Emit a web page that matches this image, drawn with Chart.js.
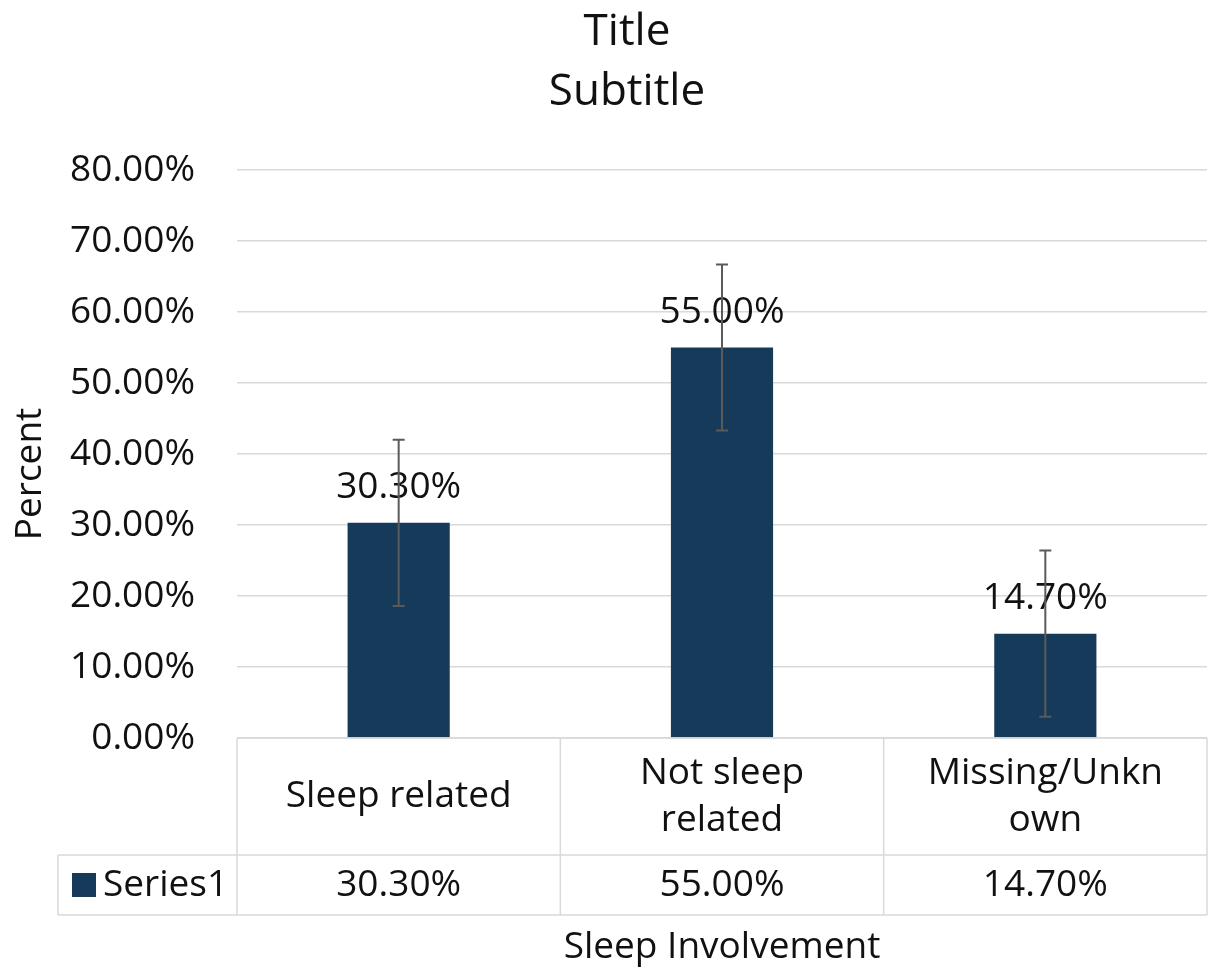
<!DOCTYPE html>
<html>
<head>
<meta charset="utf-8">
<script src="https://cdn.jsdelivr.net/npm/chart.js@4.4.0/dist/chart.umd.min.js"></script>
<style>
  html, body { margin: 0; padding: 0; background: #fff; }
  #wrap { width: 1208px; height: 968px; }
</style>
</head>
<body>
<div id="wrap"><canvas id="c" width="1208" height="968"></canvas></div>
<script>
// data
const categories = [["Sleep related"], ["Not sleep", "related"], ["Missing/Unkn", "own"]];
const seriesName = "Series1";
const values = [30.3, 55.0, 14.7];
const errorAmounts = [11.7, 11.7, 11.7];
const yTicks = [0, 10, 20, 30, 40, 50, 60, 70, 80];
const titleText = "Title";
const subtitleText = "Subtitle";
const yTitle = "Percent";
const xTitle = "Sleep Involvement";

const FONT = "'Open Sans', 'Liberation Sans', sans-serif";
const TXT = "#111";
const BAR = "#163a59";
const GRID = "#d9d9d9";
const FS = 37;

function pct(v) { return v.toFixed(2) + "%"; }

// titles, error bars, value labels and the data table under the plot
const extras = {
  id: "extras",
  afterDatasetsDraw(chart) {
    const ctx = chart.ctx;
    const y = chart.scales.y;
    const meta = chart.getDatasetMeta(0);
    ctx.save();
    ctx.font = FS + "px " + FONT;
    ctx.fillStyle = TXT;
    ctx.textAlign = "center";
    ctx.textBaseline = "middle";
    meta.data.forEach((bar, i) => {
      ctx.fillText(pct(values[i]), bar.x, bar.y - 35);
    });
    // error bars
    ctx.strokeStyle = "#5a5a5a";
    ctx.lineWidth = 2;
    meta.data.forEach((bar, i) => {
      const hi = y.getPixelForValue(values[i] + errorAmounts[i]);
      const lo = y.getPixelForValue(values[i] - errorAmounts[i]);
      ctx.beginPath();
      ctx.moveTo(bar.x, hi); ctx.lineTo(bar.x, lo);
      ctx.moveTo(bar.x - 6, hi); ctx.lineTo(bar.x + 6, hi);
      ctx.moveTo(bar.x - 6, lo); ctx.lineTo(bar.x + 6, lo);
      ctx.stroke();
    });
    ctx.restore();
  },
  afterDraw(chart) {
    const ctx = chart.ctx;
    const area = chart.chartArea;
    const x = chart.scales.x;
    const top = area.bottom;
    const mid = top + 117;
    const bot = top + 177;
    const legLeft = 58;
    const n = categories.length;
    const step = (area.right - area.left) / n;
    ctx.save();
    ctx.strokeStyle = GRID;
    ctx.lineWidth = 1.5;
    ctx.beginPath();
    ctx.moveTo(area.left, top); ctx.lineTo(area.right, top);
    ctx.moveTo(legLeft, mid); ctx.lineTo(area.right, mid);
    ctx.moveTo(legLeft, bot); ctx.lineTo(area.right, bot);
    ctx.moveTo(legLeft, mid); ctx.lineTo(legLeft, bot);
    for (let i = 0; i <= n; i++) {
      const bx = area.left + step * i;
      ctx.moveTo(bx, top); ctx.lineTo(bx, bot);
    }
    ctx.stroke();

    ctx.fillStyle = TXT;
    ctx.textAlign = "center";
    ctx.textBaseline = "middle";
    // titles
    ctx.font = "44px " + FONT;
    ctx.fillText(titleText, 627, 32);
    ctx.fillText(subtitleText, 627, 92);

    ctx.font = FS + "px " + FONT;
    categories.forEach((lines, i) => {
      const cx = x.getPixelForValue(i);
      const lh = 47;
      const y0 = (top + mid) / 2 - (lines.length - 1) * lh / 2;
      lines.forEach((t, k) => ctx.fillText(t, cx, y0 + k * lh));
      ctx.fillText(pct(values[i]), cx, (mid + bot) / 2);
    });
    // x axis title
    ctx.fillText(xTitle, (area.left + area.right) / 2, 947);
    // y axis title
    ctx.save();
    ctx.translate(30, 474);
    ctx.rotate(-Math.PI / 2);
    ctx.fillText(yTitle, 0, 0);
    ctx.restore();
    // legend key
    ctx.fillStyle = BAR;
    ctx.fillRect(72, (mid + bot) / 2 - 12, 24, 24);
    ctx.fillStyle = TXT;
    ctx.textAlign = "left";
    ctx.fillText(seriesName, 103, (mid + bot) / 2);
    ctx.restore();
  }
};

new Chart(document.getElementById("c"), {
  type: "bar",
  data: {
    labels: categories.map(c => c.join(" ")),
    datasets: [{
      label: seriesName,
      data: values,
      backgroundColor: BAR,
      barPercentage: 0.316,
      categoryPercentage: 1
    }]
  },
  options: {
    responsive: false,
    animation: false,
    layout: { padding: { left: 0, right: 1, top: 170, bottom: 230 } },
    plugins: {
      legend: { display: false },
      tooltip: { enabled: false }
    },
    scales: {
      x: { display: false },
      y: {
        min: 0, max: 80,
        afterBuildTicks(scale) { scale.ticks = yTicks.map(v => ({ value: v })); },
        afterFit(scale) { scale.width = 237; },
        grid: { color: GRID, lineWidth: 1.5, drawTicks: false },
        border: { display: false },
        ticks: {
          padding: 42, color: TXT,
          font: { family: FONT, size: FS },
          callback: v => pct(v)
        }
      }
    }
  },
  plugins: [extras]
});
</script>
</body>
</html>
